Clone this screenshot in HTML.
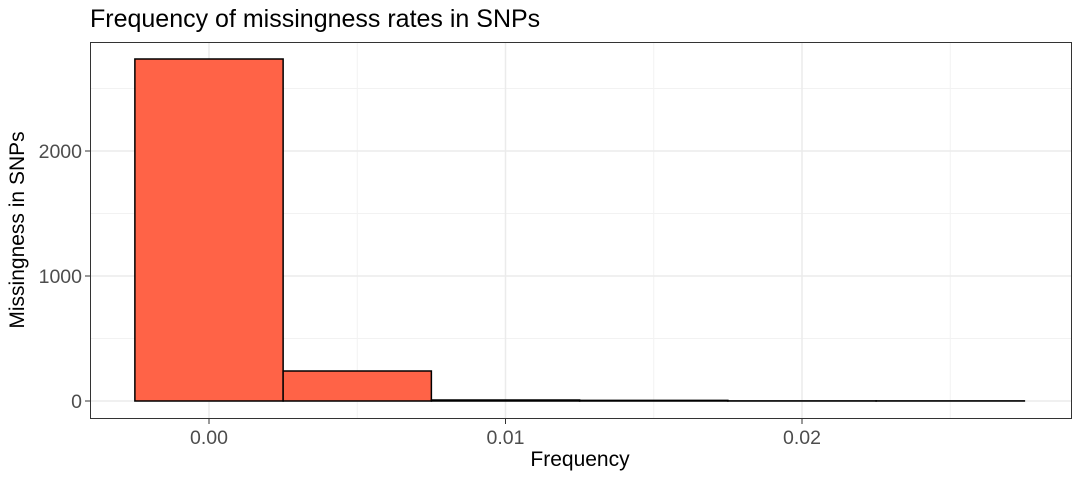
<!DOCTYPE html>
<html><head><meta charset="utf-8"><style>
body{margin:0;background:#fff;font-family:"Liberation Sans",sans-serif}
</style></head><body>
<svg id="c" width="1080" height="480" xmlns="http://www.w3.org/2000/svg">
<rect width="1080" height="480" fill="#fff"/>
<text x="90" y="27" font-size="25" fill="#000">Frequency of missingness rates in SNPs</text>
<g id="grid"></g><g id="bars"></g><g id="axes"></g>
<rect x="90.5" y="42.5" width="981" height="376" fill="none" stroke="#333" stroke-width="1"/>
<text x="580" y="466" font-size="21" text-anchor="middle">Frequency</text>
<text transform="translate(24,230) rotate(-90)" font-size="21" text-anchor="middle">Missingness in SNPs</text>
</svg>
<script>
const binCenters=[0,0.005,0.01,0.015,0.02,0.025];
const counts=[2736,240,8,5,1,1];
const xTicks=[0,0.01,0.02];
const xTickLabels=["0.00","0.01","0.02"];
const yTicks=[0,1000,2000];
const yTickLabels=["0","1000","2000"];
const binWidth=0.005;
const NS="http://www.w3.org/2000/svg";
const x=v=>209+v*29650;
const y=v=>401-v*0.125;
function mk(t,a,p){const e=document.createElementNS(NS,t);for(const k in a)e.setAttribute(k,a[k]);p.appendChild(e);return e;}
const g=document.getElementById('grid'),b=document.getElementById('bars'),ax=document.getElementById('axes');
[0.005,0.015,0.025].forEach(v=>{const l=mk('line',{x1:x(v),x2:x(v),y1:43,y2:418,stroke:'#f2f2f2','stroke-width':1},g);

});
[500,1500,2500].forEach(v=>{const l=mk('line',{x1:91,x2:1071,y1:y(v),y2:y(v),stroke:'#f2f2f2','stroke-width':1},g);

});
xTicks.forEach((v,i)=>{const l=mk('line',{x1:x(v),x2:x(v),y1:43,y2:418,stroke:'#ebebeb','stroke-width':1.5},g);


const t=mk('line',{x1:x(v),x2:x(v),y1:419,y2:424,stroke:'#333'},ax);


const s=mk('text',{x:x(v),y:444,'font-size':19.5,fill:'#4d4d4d','text-anchor':'middle'},ax);s.textContent=xTickLabels[i];

});
yTicks.forEach((v,i)=>{const l=mk('line',{x1:91,x2:1071,y1:y(v),y2:y(v),stroke:'#ebebeb','stroke-width':1.5},g);


const t=mk('line',{x1:85,x2:90,y1:y(v),y2:y(v),stroke:'#333'},ax);


const s=mk('text',{x:82,y:y(v)+7,'font-size':19.5,fill:'#4d4d4d','text-anchor':'end'},ax);s.textContent=yTickLabels[i];

});
binCenters.forEach((c,i)=>{const x0=x(c-binWidth/2),x1=x(c+binWidth/2);
const r=mk('rect',{x:x0,y:y(counts[i]),width:x1-x0,height:y(0)-y(counts[i]),fill:'#ff6347',stroke:'#000','stroke-width':1.5},b);

});
</script>
</body></html>
